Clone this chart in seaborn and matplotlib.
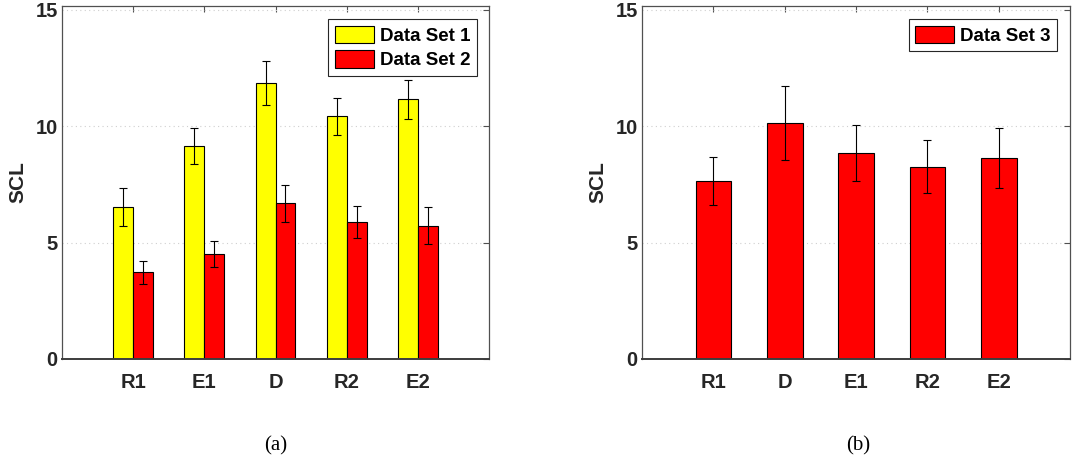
import numpy as np
import pandas as pd
import seaborn as sns
import matplotlib
matplotlib.use("Agg")
import matplotlib.pyplot as plt
from matplotlib.patches import Patch

# ---- data -------------------------------------------------------------
conds_a = ["R1", "E1", "D", "R2", "E2"]
set1_mean = [6.52, 9.14, 11.86, 10.43, 11.16]
set1_err = [0.82, 0.78, 0.93, 0.80, 0.85]
set2_mean = [3.72, 4.50, 6.69, 5.87, 5.73]
set2_err = [0.50, 0.55, 0.80, 0.69, 0.80]

conds_b = ["R1", "D", "E1", "R2", "E2"]
set3_mean = [7.64, 10.14, 8.84, 8.26, 8.64]
set3_err = [1.02, 1.58, 1.21, 1.14, 1.30]

series_names = ["Data Set 1", "Data Set 2", "Data Set 3"]
series_colors = ["#ffff00", "#ff0000", "#ff0000"]
y_ticks = [0, 5, 10, 15]

# ---- style ------------------------------------------------------------
sns.set_theme(style="white")
TXT = "#262626"
AX = "#505050"
plt.rcParams["font.family"] = ["Liberation Sans", "DejaVu Sans"]
plt.rcParams["font.weight"] = "bold"
plt.rcParams["text.color"] = TXT

fig = plt.figure(figsize=(10.92, 4.66), dpi=100)
ax_a = fig.add_axes([62 / 1092, 1 - 359 / 466, 427 / 1092, 353 / 466])
ax_b = fig.add_axes([642 / 1092, 1 - 359 / 466, 428 / 1092, 353 / 466])

df_a = pd.DataFrame({
    "cond": conds_a * 2,
    "set": [series_names[0]] * 5 + [series_names[1]] * 5,
    "SCL": set1_mean + set2_mean,
})
df_b = pd.DataFrame({
    "cond": conds_b,
    "set": [series_names[2]] * 5,
    "SCL": set3_mean,
})

sns.barplot(data=df_a, x="cond", y="SCL", hue="set", order=conds_a,
            hue_order=series_names[:2],
            palette=dict(zip(series_names[:2], series_colors[:2])),
            width=0.56, saturation=1, errorbar=None, edgecolor="black",
            linewidth=0.8, legend=False, ax=ax_a)
sns.barplot(data=df_b, x="cond", y="SCL", order=conds_b,
            color=series_colors[2], width=0.5, saturation=1, errorbar=None,
            edgecolor="black", linewidth=0.8, ax=ax_b)

# error bars at bar centres
def add_errors(ax, container, errs):
    xs = [p.get_x() + p.get_width() / 2 for p in container.patches]
    ys = [p.get_height() for p in container.patches]
    ax.errorbar(xs, ys, yerr=errs, fmt="none", ecolor="black",
                elinewidth=0.8, capsize=2.6, capthick=0.8, zorder=5)

add_errors(ax_a, ax_a.containers[0], set1_err)
add_errors(ax_a, ax_a.containers[1], set2_err)
add_errors(ax_b, ax_b.containers[0], set3_err)

for ax in (ax_a, ax_b):
    ax.set_xlim(-1, 5)
    ax.set_ylim(0, 15.17)
    ax.set_yticks(y_ticks)
    ax.set_xlabel("")
    ax.set_ylabel("SCL", fontsize=15, fontweight="bold", color=TXT, labelpad=6)
    ax.yaxis.grid(True, linestyle=(0, (1, 3)), color="#cfcfcf", linewidth=0.8)
    ax.xaxis.grid(False)
    ax.set_axisbelow(True)
    ax.tick_params(axis="both", direction="in", length=4, width=0.8,
                   color=AX, top=True, right=True, labelsize=14.5,
                   labelcolor=TXT)
    ax.tick_params(axis="x", pad=10)
    ax.tick_params(axis="y", pad=3)
    for lab in ax.get_xticklabels() + ax.get_yticklabels():
        lab.set_fontweight("bold")
    for name, sp in ax.spines.items():
        sp.set_visible(True)
        sp.set_color(AX)
        sp.set_linewidth(0.9)
    ax.spines["bottom"].set_color("#3c3c3c")
    ax.spines["bottom"].set_linewidth(1.4)

leg_kw = dict(loc="upper right", frameon=True, fancybox=False,
              framealpha=1, edgecolor=TXT, handlelength=2.1, handleheight=1.05,
              handletextpad=0.3, borderpad=0.35, labelspacing=0.3,
              borderaxespad=0, prop={"weight": "bold", "size": 13.5})
handles_a = [Patch(facecolor=c, edgecolor="black", linewidth=0.8, label=n)
             for n, c in zip(series_names[:2], series_colors[:2])]
handles_b = [Patch(facecolor=series_colors[2], edgecolor="black",
                   linewidth=0.8, label=series_names[2])]
la = ax_a.legend(handles=handles_a, bbox_to_anchor=(0.972, 0.963), **leg_kw)
lb = ax_b.legend(handles=handles_b, bbox_to_anchor=(0.970, 0.963), **leg_kw)
for lg in (la, lb):
    lg.get_frame().set_linewidth(0.8)
    for t in lg.get_texts():
        t.set_color("black")

# panel captions
fig.text(276 / 1092, 1 - 446 / 466, "(a)", ha="center", va="center",
         family=["Liberation Serif", "DejaVu Serif"], fontweight="normal",
         fontsize=15, color="black")
fig.text(858 / 1092, 1 - 446 / 466, "(b)", ha="center", va="center",
         family=["Liberation Serif", "DejaVu Serif"], fontweight="normal",
         fontsize=15, color="black")

fig.savefig("out.png", dpi=100)
